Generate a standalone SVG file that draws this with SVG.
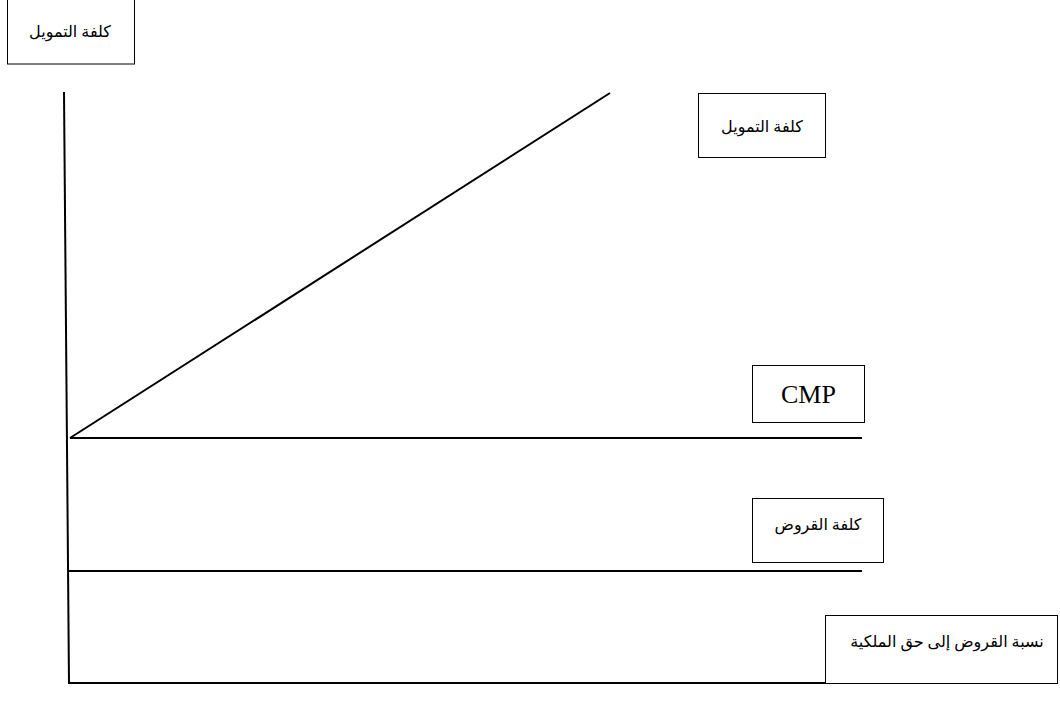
<svg xmlns="http://www.w3.org/2000/svg" width="1060" height="706" viewBox="0 0 1060 706">
  <style>
    .box { fill: #ffffff; stroke: #000000; stroke-width: 1; }
    .ln { stroke: #000000; stroke-width: 2; fill: none; }
    .ar { font-family: "Liberation Serif", "DejaVu Sans", serif; font-size: 16px; fill: #000000; text-anchor: middle; direction: rtl; }
    .lat { font-family: "Liberation Serif", serif; font-size: 26px; fill: #000000; text-anchor: middle; }
  </style>
  <rect width="1060" height="706" fill="#ffffff"/>

  <g id="connectors">
    <line class="ln" x1="64" y1="92" x2="69" y2="684"/>
    <line class="ln" x1="70" y1="438" x2="610" y2="93"/>
    <line class="ln" x1="70" y1="438" x2="862" y2="438"/>
    <line class="ln" x1="69" y1="571" x2="862" y2="571"/>
    <line class="ln" x1="69" y1="683" x2="862" y2="683"/>
  </g>

  <g id="axis-label">
    <rect class="box" x="7.5" y="-1" width="127" height="65"/>
    <text class="ar" x="70" y="37">كلفة التمويل</text>
  </g>

  <g id="cost-curve-label">
    <rect class="box" x="698.5" y="93.5" width="127" height="64"/>
    <text class="ar" x="762" y="132">كلفة التمويل</text>
  </g>

  <g id="cmp-label">
    <rect class="box" x="752.5" y="365.5" width="112" height="57"/>
    <text class="lat" x="808.5" y="403">CMP</text>
  </g>

  <g id="debt-cost-label">
    <rect class="box" x="752.5" y="498.5" width="131" height="64"/>
    <text class="ar" x="818" y="530">كلفة القروض</text>
  </g>

  <g id="ratio-label">
    <rect class="box" x="825.5" y="615.5" width="232" height="68"/>
    <text class="ar" x="947" y="647">نسبة القروض إلى حق الملكية</text>
  </g>
</svg>
